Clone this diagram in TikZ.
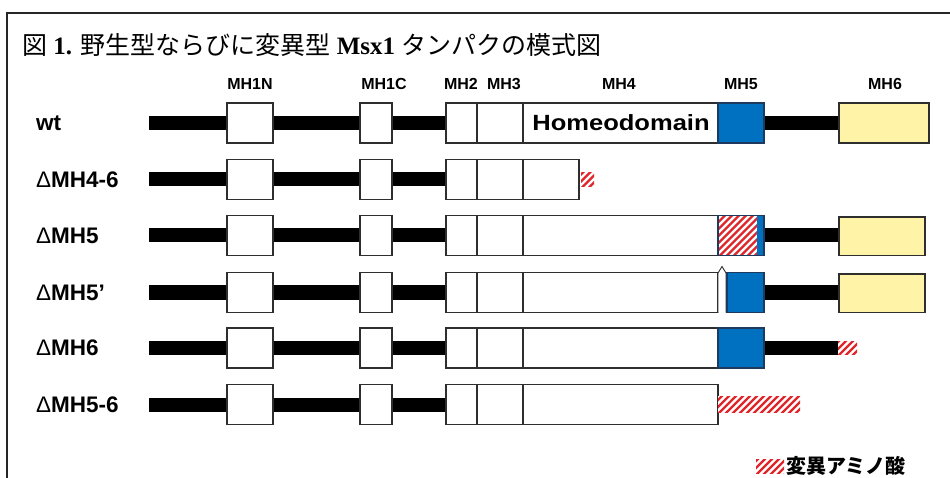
\documentclass[tikz,border=0pt]{standalone}
\usepackage{fontspec}
\setmainfont{Liberation Serif}
\newfontfamily\cjk{Noto Sans CJK JP}
\newfontfamily\lsans{Liberation Sans}
\newfontfamily\hdfont[FakeStretch=1.16]{Liberation Sans}
\definecolor{bordergray}{HTML}{2E2E2E}
\definecolor{mhblue}{HTML}{0070C0}
\definecolor{blueedge}{HTML}{1F3A5F}
\definecolor{mhyellow}{HTML}{FFF3A8}
\definecolor{hatchred}{HTML}{E0262B}
\tikzset{
  boxw/.style={draw=bordergray, line width=1.1pt, fill=white},
  boxb/.style={draw=blueedge, line width=1.1pt, fill=mhblue},
  boxy/.style={draw=bordergray, line width=1.1pt, fill=mhyellow},
  stripe/.style={draw=hatchred, line width=2.3pt},
  lab/.style={anchor=west, inner sep=0pt, font=\lsans\bfseries\fontsize{22.5}{25}\selectfont},
  hdr/.style={inner sep=0pt, font=\lsans\bfseries\fontsize{16}{18}\selectfont},
}
\newcommand\myhatch[4]{%
  \fill[white] (#1,#2) rectangle (#3,#4);
  \begin{scope}
    \clip (#1,#2) rectangle (#3,#4);
    \pgfmathsetmacro\hh{#4-#2}
    \foreach \k in {-63,-56,...,126}{\draw[stripe] ({#1+\k},{#4+2}) -- ++({\hh+4},{-\hh-4});}
  \end{scope}}
\newcommand\mrow[2]{%
  \fill[black] (149,{#1-7}) rectangle (#2,{#1+7});
  \draw[boxw] (227,{#1-20}) rectangle (273,{#1+20});
  \draw[boxw] (360,{#1-20}) rectangle (392,{#1+20});
  \draw[boxw] (446,{#1-20}) rectangle (477,{#1+20});
  \draw[boxw] (477,{#1-20}) rectangle (523,{#1+20});}
\begin{document}
\begin{tikzpicture}[x=1pt,y=-1pt]
\useasboundingbox (0,0) rectangle (950,478);
% frame
\draw[line width=1.3pt, black!85] (7,478) -- (7,13) -- (950,13);
% title
\node[anchor=west, inner sep=0pt] (title) at (22,45)
  {\fontsize{25}{29}\selectfont{\cjk 図} \textbf{1.} {\cjk 野生型ならびに変異型} \textbf{Msx1} {\cjk タンパクの模式図}};
% headers
\node[hdr] (h1) at (250,84) {MH1N};
\node[hdr] (h2) at (384,84) {MH1C};
\node[hdr] (h3) at (461,84) {MH2};
\node[hdr] (h4) at (504,84) {MH3};
\node[hdr] (h5) at (619,84) {MH4};
\node[hdr] (h6) at (741,84) {MH5};
\node[hdr] (h7) at (885,84) {MH6};
% row labels
\node[lab] (l1) at (36,123) {wt};
\node[lab] (l2) at (36,179.5) {{\mdseries Δ}MH4-6};
\node[lab] (l3) at (36,235.5) {{\mdseries Δ}MH5};
\node[lab] (l4) at (36,292.5) {{\mdseries Δ}MH5’};
\node[lab] (l5) at (36,348) {{\mdseries Δ}MH6};
\node[lab] (l6) at (36,404.5) {{\mdseries Δ}MH5-6};
% row 1 wt
\mrow{123}{839}
\draw[boxw] (523,103) rectangle (718,143);
\node[inner sep=0pt, font=\hdfont\bfseries\fontsize{22}{24}\selectfont] (hd) at (621,123) {Homeodomain};
\draw[boxb] (718,103) rectangle (764,143);
\draw[boxy] (839,103) rectangle (929,143);
% row 2
\mrow{179.5}{446}
\draw[boxw] (523,159.5) rectangle (579,199.5);
\myhatch{581}{172.5}{594}{186.5}
% row 3
\mrow{235.5}{839}
\draw[boxw] (523,215.5) rectangle (718,255.5);
\myhatch{718}{215.5}{757}{255.5}
\fill[mhblue] (757,215.5) rectangle (764,255.5);
\draw[draw=blueedge, line width=1.1pt] (718,215.5) rectangle (764,255.5);
\draw[boxy] (839,217) rectangle (925,255.5);
% row 4
\mrow{292.5}{839}
\draw[boxw] (523,272.5) rectangle (718,312.5);
\draw[draw=bordergray, line width=0.9pt, fill=white] (718,312.5) -- (718,273) -- (722,266.5) -- (726,273) -- (726,312.5);
\draw[boxb] (727,272.5) rectangle (764,312.5);
\draw[boxy] (839,274) rectangle (925,312.5);
% row 5
\mrow{348}{838}
\draw[boxw] (523,328) rectangle (718,368);
\draw[boxb] (718,328) rectangle (764,368);
\myhatch{838}{341}{857}{354}
% row 6
\mrow{404.5}{446}
\draw[boxw] (523,384.5) rectangle (718,424.5);
\myhatch{718}{396}{800}{412}
% legend
\myhatch{756}{459}{784}{473}
\node[anchor=west, inner sep=0pt, font=\cjk\bfseries\fontsize{20}{22}\selectfont] (leg) at (786,466) {変異アミノ酸};
\end{tikzpicture}
\end{document}
